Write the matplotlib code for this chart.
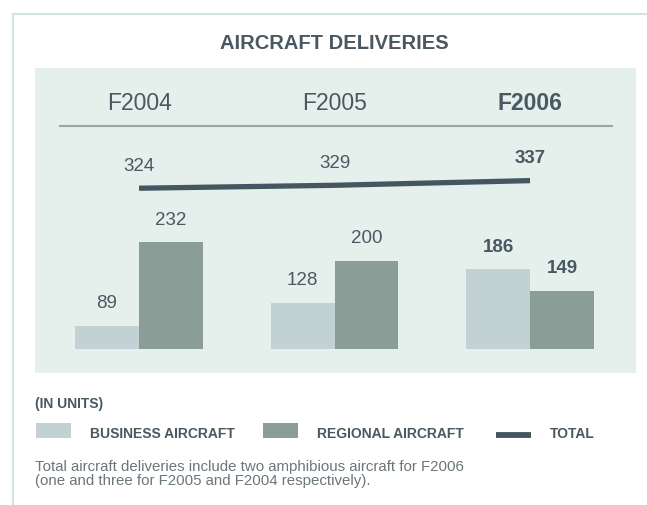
import matplotlib.pyplot as plt
from matplotlib.patches import Rectangle
from matplotlib.lines import Line2D
import numpy as np

plt.rcParams['font.family'] = ['Liberation Sans', 'DejaVu Sans']

years = ['F2004', 'F2005', 'F2006']
business = [89, 128, 186]
regional = [232, 200, 149]
total = [324, 329, 337]

W, H = 647, 506
c_border = '#d3e3de'
c_panel = '#e5efec'
c_business = '#c2d1d4'
c_regional = '#8a9d97'
c_total = '#465660'
c_text = '#4a5862'
c_note = '#6c7579'


def px(x, y):
    # pixel position (from top-left) -> figure fraction
    return x / W, 1 - y / H


fig = plt.figure(figsize=(W / 100, H / 100), dpi=100)
fig.patch.set_facecolor('white')

# thin frame on the top and left
fig.add_artist(Line2D([13 / W, 1], [1 - 14.5 / H] * 2, color=c_border, lw=1.5))
fig.add_artist(Line2D([13.3 / W] * 2, [1 - 14.5 / H, 0], color=c_border, lw=1.5))

fig.text(*px(334, 44), 'AIRCRAFT DELIVERIES', ha='center', va='center',
         fontsize=14.5, fontweight='bold', color=c_text)

# panel axes
ax = fig.add_axes([35 / W, (H - 373.5) / H, 601 / W, 304.5 / H])
ax.set_facecolor(c_panel)
for s in ax.spines.values():
    s.set_visible(False)
ax.set_xticks([])
ax.set_yticks([])

x = np.arange(len(years))
bw = 0.327
base = 50
ax.bar(x - bw / 2, np.array(business) - base, bw, bottom=base, color=c_business)
ax.bar(x + bw / 2, np.array(regional) - base, bw, bottom=base, color=c_regional)
ax.plot(x, total, color=c_total, lw=3.8, solid_capstyle='butt')

ax.set_xlim(-0.532, 2.542)
ax.set_ylim(9, 529.5)

for i in range(len(years)):
    w = 'bold' if i == len(years) - 1 else 'normal'
    ax.annotate(str(business[i]), (x[i] - bw / 2, business[i]), xytext=(0, 16.5),
                textcoords='offset points', ha='center', va='center',
                fontsize=13.5, fontweight=w, color=c_text)
    ax.annotate(str(regional[i]), (x[i] + bw / 2, regional[i]), xytext=(0, 16.5),
                textcoords='offset points', ha='center', va='center',
                fontsize=13.5, fontweight=w, color=c_text)
    ax.annotate(str(total[i]), (x[i], total[i]), xytext=(0, 16.5),
                textcoords='offset points', ha='center', va='center',
                fontsize=13.5, fontweight=w, color=c_text)
    # year headers above the separator
    ax.text(x[i], 1 - (103 - 69) / 304.5, years[i], transform=ax.get_xaxis_transform(),
            ha='center', va='center', fontsize=16.5, fontweight=w, color=c_text)

fig.add_artist(Line2D([60 / W, 612 / W], [1 - 127.3 / H] * 2, color='#9aa5a5', lw=1.5))

# legend
fig.text(*px(35, 404), '(IN UNITS)', ha='left', va='center',
         fontsize=10, fontweight='bold', color=c_text)
fig.add_artist(Rectangle(px(36, 438.7), 35 / W, 14.7 / H, color=c_business, lw=0))
fig.text(*px(90.5, 434.5), 'BUSINESS AIRCRAFT', ha='left', va='center',
         fontsize=10, fontweight='bold', color=c_text)
fig.add_artist(Rectangle(px(263, 438.7), 35 / W, 14.7 / H, color=c_regional, lw=0))
fig.text(*px(317, 434.5), 'REGIONAL AIRCRAFT', ha='left', va='center',
         fontsize=10, fontweight='bold', color=c_text)
fig.add_artist(Line2D([496 / W, 531 / W], [1 - 436 / H] * 2, color=c_total, lw=4.2,
                      solid_capstyle='butt'))
fig.text(*px(550, 434.5), 'TOTAL', ha='left', va='center',
         fontsize=10, fontweight='bold', color=c_text)

fig.text(*px(35, 474.5),
         'Total aircraft deliveries include two amphibious aircraft for F2006\n'
         '(one and three for F2005 and F2004 respectively).',
         ha='left', va='center', fontsize=10.8, linespacing=1.0, color=c_note)

fig.savefig('out.png', dpi=100)
